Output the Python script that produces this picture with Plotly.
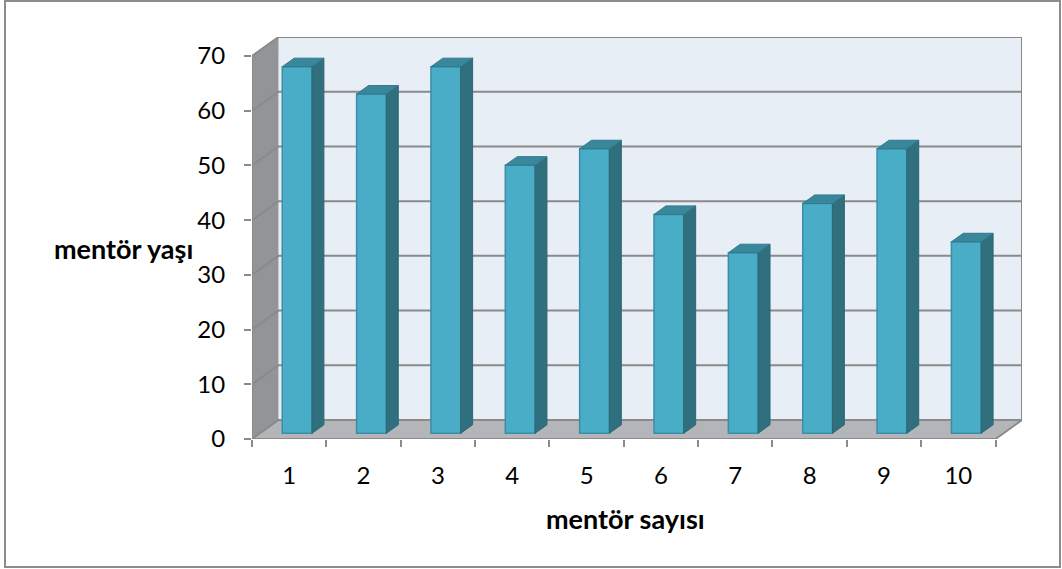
import plotly.graph_objects as go

# Mentor ages per mentor number
mentors = [1, 2, 3, 4, 5, 6, 7, 8, 9, 10]
ages = [67, 62, 67, 49, 52, 40, 33, 42, 52, 35]
y_ticks = [0, 10, 20, 30, 40, 50, 60, 70]
y_max = 70

# 3D look: depth offset of the back wall in axis units
DX = 0.356      # depth shift along x (category units)
DY = 3.47       # depth shift along y (value units)
F0, F1 = 0.30, 0.75   # front / back of each column as a fraction of depth
HALF_W = 0.2          # half column width

W, H = 1062, 569
ML, MR, MT, MB = 252, 40, 37, 130
PW, PH = W - ML - MR, H - MT - MB

GRID = "#8a8a8a"
x0, x1 = 0.5, len(mentors) + 0.5


def poly(xs, ys):
    pts = [f"{x},{y}" for x, y in zip(xs, ys)]
    return "M" + " L".join(pts) + " Z"


shapes = []
# back wall, left wall, floor (drawn under the traces)
shapes.append(dict(type="path", xref="x", yref="y", layer="below",
                   path=poly([x0 + DX, x1 + DX, x1 + DX, x0 + DX],
                             [DY, DY, y_max + DY, y_max + DY]),
                   fillcolor="#e8eef6", line=dict(width=0)))
shapes.append(dict(type="path", xref="x", yref="y", layer="below",
                   path=poly([x0, x0, x0 + DX, x0 + DX],
                             [0, y_max, y_max + DY, DY]),
                   fillcolor="#929498", line=dict(width=0)))
shapes.append(dict(type="path", xref="x", yref="y", layer="below",
                   path=poly([x0, x1, x1 + DX, x0 + DX], [0, 0, DY, DY]),
                   fillcolor="#b3b5b8", line=dict(width=0)))
# gridlines across left and back walls
for v in y_ticks:
    shapes.append(dict(type="path", xref="x", yref="y", layer="below",
                       path=f"M{x0},{v} L{x0 + DX},{v + DY} L{x1 + DX},{v + DY}",
                       line=dict(color=GRID, width=2)))
# wall edges
shapes.append(dict(type="path", xref="x", yref="y", layer="below",
                   path=f"M{x0},{y_max} L{x0},0 L{x1},0 L{x1 + DX},{DY} L{x1 + DX},{y_max + DY}",
                   line=dict(color=GRID, width=2)))

# outer chart border
shapes.append(dict(type="rect", xref="paper", yref="paper", layer="below",
                   x0=(5 - ML) / PW, x1=(1060 - ML) / PW,
                   y0=(H - MB - 567) / PH, y1=(H - MB - 1) / PH,
                   line=dict(color="#8c8c8c", width=2)))

fig = go.Figure()

# columns: front faces
fig.add_trace(go.Bar(
    x=[c + F0 * DX for c in mentors], y=ages, base=F0 * DY,
    width=2 * HALF_W,
    marker=dict(color="#4aadc8", line=dict(color="#3a8ea5", width=1.5)),
    hoverinfo="skip"))

# columns: side and top faces
sx, sy, tx, ty = [], [], [], []
for c, v in zip(mentors, ages):
    r0 = c + HALF_W + F0 * DX
    r1 = c + HALF_W + F1 * DX
    l0 = c - HALF_W + F0 * DX
    l1 = c - HALF_W + F1 * DX
    sx += [r0, r1, r1, r0, r0, None]
    sy += [F0 * DY, F1 * DY, v + F1 * DY, v + F0 * DY, F0 * DY, None]
    tx += [l0, r0, r1, l1, l0, None]
    ty += [v + F0 * DY, v + F0 * DY, v + F1 * DY, v + F1 * DY, v + F0 * DY, None]
fig.add_trace(go.Scatter(x=sx, y=sy, fill="toself", fillcolor="#306f7e",
                         line=dict(color="#2c6776", width=1), mode="lines",
                         hoverinfo="skip"))
fig.add_trace(go.Scatter(x=tx, y=ty, fill="toself", fillcolor="#3a879c",
                         line=dict(color="#2f7a8e", width=1), mode="lines",
                         hoverinfo="skip"))

FONT = "Lato, Open Sans, sans-serif"

fig.update_layout(
    width=W, height=H,
    margin=dict(l=ML, r=MR, t=MT, b=MB, autoexpand=False),
    paper_bgcolor="white", plot_bgcolor="white",
    showlegend=False,
    font=dict(family=FONT, size=24, color="black"),
    xaxis=dict(
        range=[x0, x1 + DX], showgrid=False, zeroline=False, showline=False,
        tickvals=mentors, ticktext=[str(m) for m in mentors],
        ticks="", ticklabelstandoff=20,
        minor=dict(tick0=0.5, dtick=1, ticks="outside", ticklen=7,
                   tickcolor=GRID, tickwidth=1.5, showgrid=False),
    ),
    yaxis=dict(
        range=[0, y_max + DY], showgrid=False, zeroline=False, showline=False,
        tickvals=y_ticks, ticks="outside", ticklen=7, tickcolor=GRID,
        tickwidth=1.5, ticklabelstandoff=14,
    ),
    annotations=[
        dict(text="<b>mentör yaşı</b>", xref="paper", yref="paper",
             x=(123 - ML) / PW, y=(H - MB - 248) / PH, showarrow=False,
             xanchor="center", yanchor="middle",
             font=dict(family=FONT, size=27)),
        dict(text="<b>mentör sayısı</b>", xref="paper", yref="paper",
             x=(625 - ML) / PW, y=(H - MB - 518) / PH, showarrow=False,
             xanchor="center", yanchor="middle",
             font=dict(family=FONT, size=27)),
    ],
    shapes=shapes,
)

fig.write_html("out.html")
